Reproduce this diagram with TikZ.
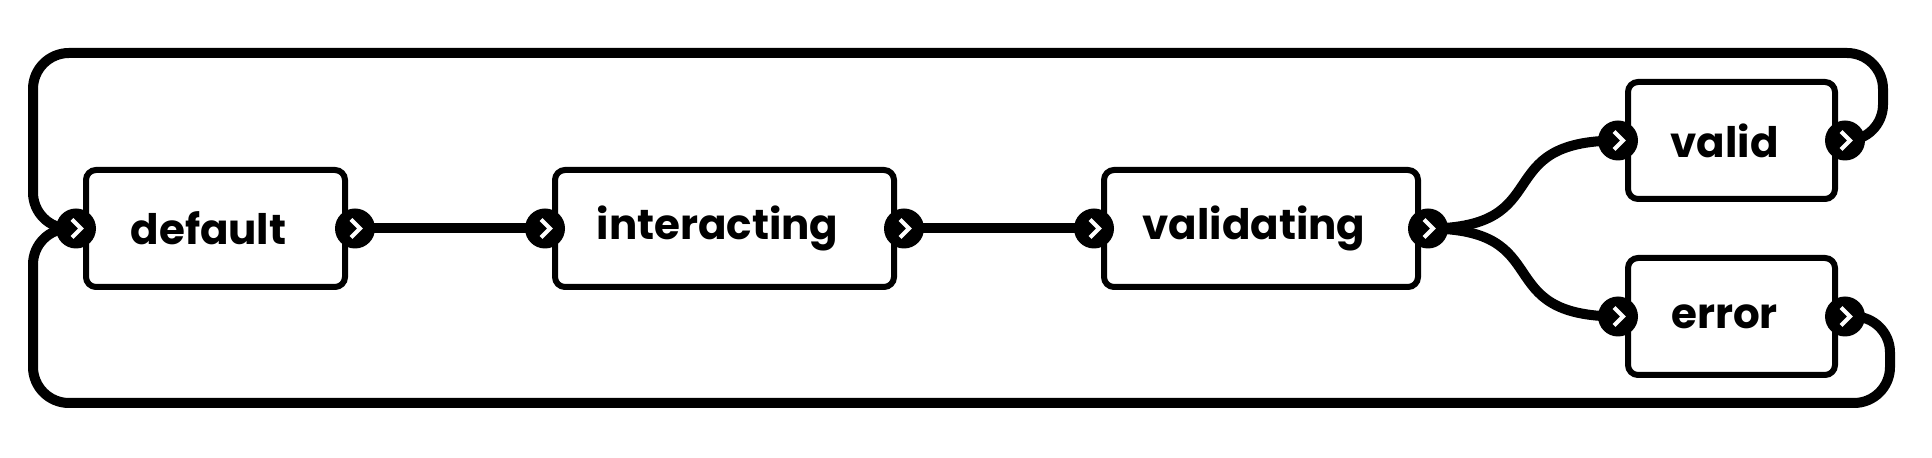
\documentclass[tikz,border=0pt]{standalone}
\usepackage{fontspec}
\setmainfont{Poppins}
\usetikzlibrary{positioning,backgrounds}

\begin{document}
\begin{tikzpicture}[
    x=0.5pt, y=-0.5pt,
    node distance=105pt,
    state/.style={draw, line width=3pt, rounded corners=5pt, outer sep=0pt, minimum height=58.5pt,
        font=\fontsize{21}{25}\selectfont\bfseries, execute at end node={\hspace{7pt}}},
    port/.style={circle, fill=black, inner sep=0pt, minimum size=20pt,
        path picture={\draw[white, line width=2pt] ([shift={(-2pt,4.5pt)}]path picture bounding box.center) -- ++(4.5pt,-4.5pt) -- ++(-4.5pt,-4.5pt);}},
    link/.style={line width=5pt, rounded corners=18pt}
]
\useasboundingbox (0,0) rectangle (1932,458);

% States
\node[state, minimum width=129.5pt] (default) at (215.5,228.5) {default};
\node[state, minimum width=169.5pt, right=of default] (interacting) {interacting};
\node[state, minimum width=157pt, right=of interacting] (validating) {validating};
\node[state, minimum width=103.5pt, right=of validating, yshift=44pt] (valid) {valid};
\node[state, minimum width=103.5pt, right=of validating, yshift=-44pt] (error) {error};

% Ports
\node[port] (default-in) at ([xshift=-5pt]default.west) {};
\node[port] (default-out) at ([xshift=5pt]default.east) {};
\node[port] (interacting-in) at ([xshift=-5pt]interacting.west) {};
\node[port] (interacting-out) at ([xshift=5pt]interacting.east) {};
\node[port] (validating-in) at ([xshift=-5pt]validating.west) {};
\node[port] (validating-out) at ([xshift=5pt]validating.east) {};
\node[port] (valid-in) at ([xshift=-5pt]valid.west) {};
\node[port] (valid-out) at ([xshift=5pt]valid.east) {};
\node[port] (error-in) at ([xshift=-5pt]error.west) {};
\node[port] (error-out) at ([xshift=5pt]error.east) {};

% Transitions
\begin{pgfonlayer}{background}
\draw[link] (default-out.center) -- (interacting-in.center);
\draw[link] (interacting-out.center) -- (validating-in.center);
\draw[link] (validating-out.center) to[out=0, in=180, looseness=1.6] (valid-in.center);
\draw[link] (validating-out.center) to[out=0, in=180, looseness=1.6] (error-in.center);
\draw[link] (valid-out.center) -| (1883,53) -| ([xshift=-21.5pt]default-in.center) -- (default-in.center);
\draw[link] (error-out.center) -| (1890,403) -| ([xshift=-21.5pt]default-in.center) -- (default-in.center);
\end{pgfonlayer}
\end{tikzpicture}
\end{document}
